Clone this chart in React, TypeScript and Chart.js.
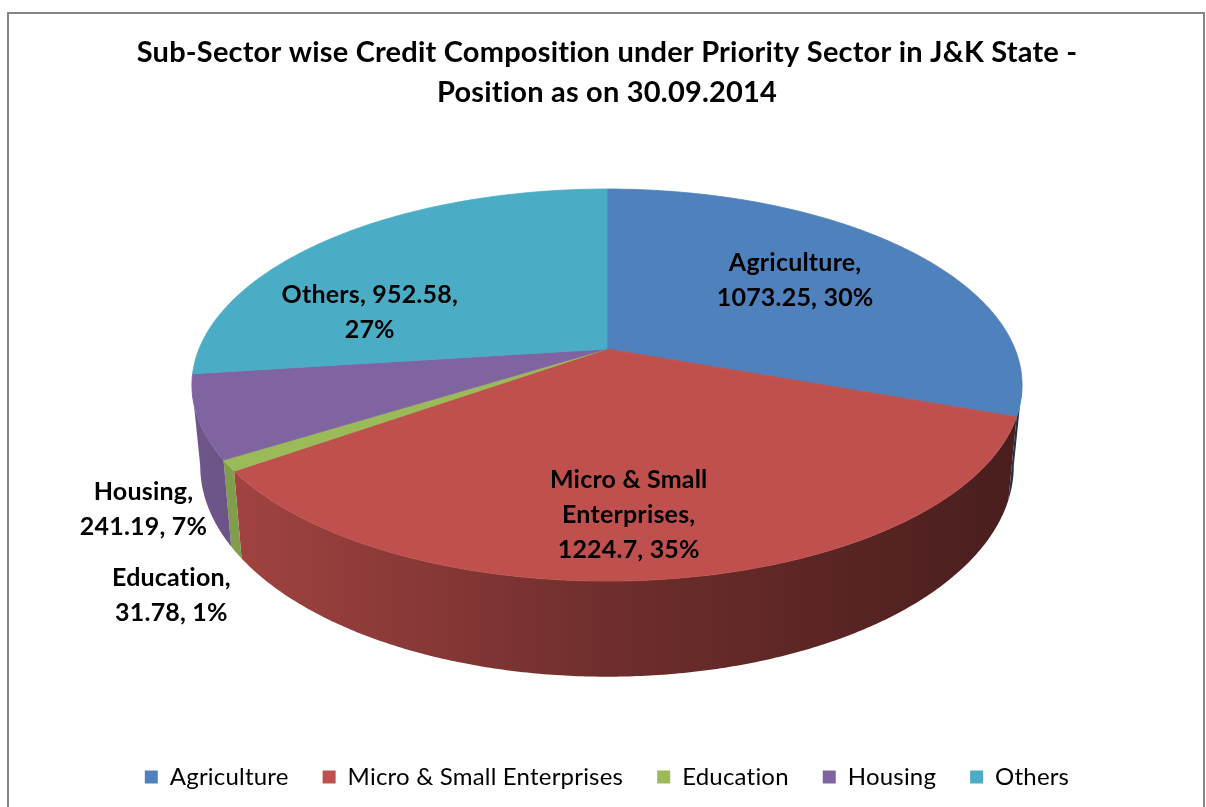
import { useEffect, useRef } from "react";
import { Chart, registerables } from "chart.js";

Chart.register(...registerables);

// Priority sector credit by sub-sector (Rs. crore)
const CATEGORIES = ["Agriculture", "Micro & Small Enterprises", "Education", "Housing", "Others"];
const CREDIT_VALUES = [1073.25, 1224.7, 31.78, 241.19, 952.58];
const SLICE_COLORS = ["#4F81BD", "#C0504D", "#9BBB59", "#8064A2", "#4BACC6"];
const TITLE_LINES = [
  "Sub-Sector wise Credit Composition under Priority Sector in J&K State -",
  "Position as on 30.09.2014",
];
// how many words of "Name, value, pct%" go on each line of a data label
const LABEL_WRAP = [[1, 2], [3, 1, 2], [1, 2], [1, 2], [2, 1]];
// label anchor: radial fraction, level (0 = top face, 1 = base) and a small nudge
const LABEL_ANCHORS = [
  { f: 0.6, z: 0, dx: 0, dy: -7 },
  { f: 0.76, z: 0, dx: -27, dy: 0 },
  { f: 1.1, z: 1, dx: -23, dy: 29 },
  { f: 1.13, z: 1, dx: -6, dy: -1 },
  { f: 0.855, z: 0, dx: 0, dy: 60 },
];

// perspective disc geometry
const PIE = { cy: 349, rx: 408, ry: 189.4, tilt: 0.184, depth: 78, baseShrink: 0.02 };
const FONT = "Lato, 'Open Sans', sans-serif";

function project(cx: number, a: number, f: number, z: number): [number, number] {
  const X = f * Math.cos(a);
  const Y = f * Math.sin(a);
  const s = 1 / (1 - PIE.tilt * Y);
  const k = 1 - PIE.baseShrink * z;
  return [cx + PIE.rx * X * s * k, PIE.cy + PIE.ry * Y * s + z * PIE.depth * s];
}

function shade(hex: string, k: number): string {
  const n = parseInt(hex.slice(1), 16);
  const r = Math.round(((n >> 16) & 255) * k);
  const g = Math.round(((n >> 8) & 255) * k);
  const b = Math.round((n & 255) * k);
  return `rgb(${r},${g},${b})`;
}

function labelLines(i: number, total: number): string[] {
  const pct = Math.round((CREDIT_VALUES[i] / total) * 100);
  const words = `${CATEGORIES[i]}, ${CREDIT_VALUES[i]}, ${pct}%`.split(" ");
  const lines: string[] = [];
  let k = 0;
  for (const count of LABEL_WRAP[i]) {
    lines.push(words.slice(k, k + count).join(" "));
    k += count;
  }
  return lines;
}

// plain glyphs (no ligatures) for all canvas text
function plainText(ctx: any) {
  ctx.textRendering = "optimizeSpeed";
  ctx.letterSpacing = "0.2px";
}

const frame = {
  id: "frame",
  beforeLayout(chart: any) {
    plainText(chart.ctx);
  },
  beforeDraw(chart: any) {
    const { ctx } = chart;
    ctx.save();
    ctx.strokeStyle = "#868686";
    ctx.lineWidth = 2;
    ctx.strokeRect(8, 13, 1196, 820);
    ctx.restore();
    plainText(ctx);
  },
};

const pie3d = {
  id: "pie3d",
  beforeDatasetsDraw(chart: any) {
    const { ctx } = chart;
    const meta = chart.getDatasetMeta(0);
    const arcs = meta.data.map((el: any) => el.getProps(["x", "startAngle", "endAngle"], true));
    const cx = arcs[0].x;
    const step = Math.PI / 360;

    ctx.save();

    // outer wall between the two silhouette tangents (the far half lies under the top face)
    const nearFrom = Math.asin(PIE.tilt);
    const nearTo = Math.PI - Math.asin(PIE.tilt);
    arcs.forEach((arc: any, i: number) => {
      const a0 = Math.max(arc.startAngle, nearFrom);
      const a1 = Math.min(arc.endAngle, nearTo);
      if (a1 <= a0) return;
      const n = Math.max(2, Math.ceil((a1 - a0) / step));
      const g = ctx.createLinearGradient(cx - PIE.rx, 0, cx + PIE.rx, 0);
      g.addColorStop(0, shade(SLICE_COLORS[i], 0.86));
      g.addColorStop(0.5, shade(SLICE_COLORS[i], 0.58));
      g.addColorStop(1, shade(SLICE_COLORS[i], 0.38));
      ctx.beginPath();
      for (let k = 0; k <= n; k++) {
        const p = project(cx, a0 + ((a1 - a0) * k) / n, 1, 0);
        if (k === 0) ctx.moveTo(p[0], p[1]);
        else ctx.lineTo(p[0], p[1]);
      }
      for (let k = n; k >= 0; k--) {
        const p = project(cx, a0 + ((a1 - a0) * k) / n, 1, 1);
        ctx.lineTo(p[0], p[1]);
      }
      ctx.closePath();
      ctx.fillStyle = g;
      ctx.fill();
    });

    // top faces
    arcs.forEach((arc: any, i: number) => {
      const n = Math.max(2, Math.ceil((arc.endAngle - arc.startAngle) / step));
      const c = project(cx, 0, 0, 0);
      ctx.beginPath();
      ctx.moveTo(c[0], c[1]);
      for (let k = 0; k <= n; k++) {
        const a = arc.startAngle + ((arc.endAngle - arc.startAngle) * k) / n;
        const p = project(cx, a, 1, 0);
        ctx.lineTo(p[0], p[1]);
      }
      ctx.closePath();
      ctx.fillStyle = SLICE_COLORS[i];
      ctx.strokeStyle = SLICE_COLORS[i];
      ctx.lineWidth = 0.8;
      ctx.fill();
      ctx.stroke();
    });

    // data labels
    const total = CREDIT_VALUES.reduce((a, b) => a + b, 0);
    ctx.font = `bold 25px ${FONT}`;
    ctx.fillStyle = "#000";
    ctx.textAlign = "center";
    ctx.textBaseline = "middle";
    arcs.forEach((arc: any, i: number) => {
      const anchor = LABEL_ANCHORS[i];
      const mid = (arc.startAngle + arc.endAngle) / 2;
      const [x, y] = project(cx, mid, anchor.f, anchor.z);
      const lines = labelLines(i, total);
      const lh = 35;
      lines.forEach((t, k) => {
        ctx.fillText(t, x + anchor.dx, y + anchor.dy + (k - (lines.length - 1) / 2) * lh);
      });
    });

    ctx.restore();
    return false;
  },
};

export default function App() {
  const canvasRef = useRef<HTMLCanvasElement | null>(null);

  useEffect(() => {
    if (!canvasRef.current) return;
    const chart = new Chart(canvasRef.current, {
      type: "pie",
      data: {
        labels: CATEGORIES,
        datasets: [
          {
            data: CREDIT_VALUES,
            backgroundColor: SLICE_COLORS,
            borderWidth: 0,
          },
        ],
      },
      options: {
        responsive: false,
        animation: false,
        events: [],
        layout: { padding: { top: 12, left: 8, right: 0, bottom: 8 } },
        plugins: {
          title: {
            display: true,
            text: TITLE_LINES,
            color: "#000",
            font: { family: FONT, size: 29, weight: "bold", lineHeight: "40px" },
            padding: { top: 21, bottom: 10 },
          },
          legend: {
            display: true,
            position: "bottom",
            labels: {
              boxWidth: 13,
              boxHeight: 13,
              padding: 34,
              color: "#000",
              font: { family: FONT, size: 24 },
            },
          },
          tooltip: { enabled: false },
        },
      },
      plugins: [frame, pie3d],
    });
    return () => chart.destroy();
  }, []);

  return (
    <div style={{ position: "fixed", left: 0, top: 0, width: 1206, height: 807, background: "#fff" }}>
      <canvas ref={canvasRef} width={1206} height={807} style={{ display: "block" }} />
    </div>
  );
}
